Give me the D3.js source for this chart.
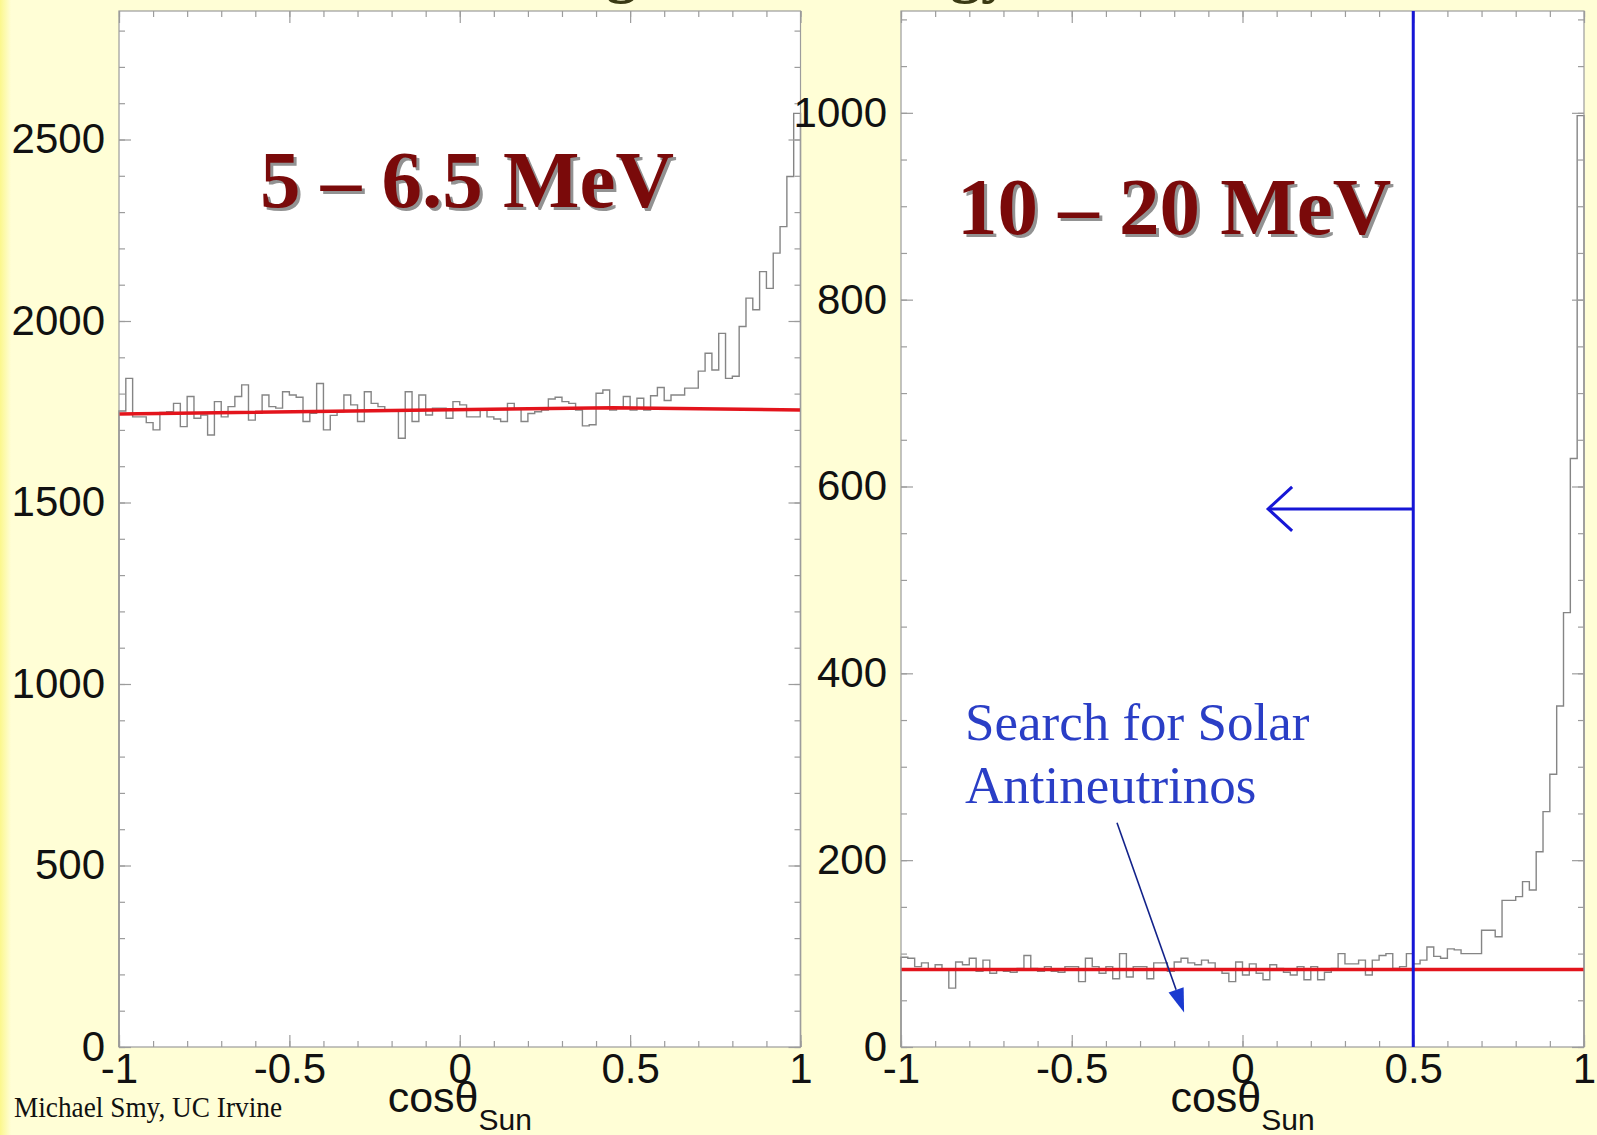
<!DOCTYPE html>
<html>
<head>
<meta charset="utf-8">
<script src="https://cdn.jsdelivr.net/npm/d3@7"></script>
<style>
  html, body { margin: 0; padding: 0; background: #fffed6; }
  svg { display: block; }
</style>
</head>
<body>
<svg id="chart" width="1597" height="1135"></svg>
<script>
// ---- data ---------------------------------------------------------------
// 100 bins in cos(theta_sun) from -1 to 1
const lowEnergyCounts = [
  1752, 1842, 1736, 1736, 1720, 1700, 1748, 1750, 1773, 1709,
  1792, 1732, 1741, 1686, 1778, 1736, 1764, 1792, 1824, 1727,
  1746, 1796, 1764, 1760, 1805, 1796, 1790, 1723, 1746, 1828,
  1700, 1740, 1750, 1796, 1769, 1723, 1805, 1773, 1764, 1755,
  1755, 1677, 1805, 1723, 1796, 1741, 1760, 1760, 1732, 1778,
  1769, 1736, 1736, 1755, 1736, 1730, 1723, 1773, 1757, 1723,
  1745, 1750, 1755, 1785, 1790, 1778, 1773, 1755, 1711, 1714,
  1801, 1810, 1755, 1760, 1792, 1755, 1787, 1755, 1794, 1817,
  1781, 1796, 1796, 1815, 1815, 1862, 1911, 1865, 1966, 1842,
  1848, 1985, 2063, 2031, 2136, 2090, 2187, 2260, 2398, 2572
];
const highEnergyCounts = [
  96, 95, 86, 90, 82, 88, 82, 63, 91, 88,
  95, 81, 93, 79, 82, 81, 80, 84, 98, 84,
  81, 86, 81, 80, 86, 86, 70, 95, 86, 79,
  86, 73, 100, 75, 86, 86, 73, 90, 90, 81,
  91, 95, 90, 88, 93, 90, 82, 79, 70, 91,
  77, 89, 79, 72, 88, 84, 80, 77, 86, 72,
  86, 72, 80, 84, 100, 89, 89, 93, 77, 93,
  98, 100, 84, 86, 100, 89, 93, 107, 97, 95,
  105, 104, 100, 100, 100, 125, 125, 118, 157, 157,
  161, 177, 168, 209, 252, 292, 365, 465, 630, 997
];
// background fits: [cos, counts]
const lowEnergyFit = [[-1, 1744], [0.45, 1761], [1, 1755]];
const highEnergyFit = [[-1, 83], [1, 83]];

const xTickValues = [-1, -0.5, 0, 0.5, 1];
const lowYTickValues = [0, 500, 1000, 1500, 2000, 2500];
const highYTickValues = [0, 200, 400, 600, 800, 1000];

const panelTitles = ["5 \u2013 6.5 MeV", "10 \u2013 20 MeV"];
const angleCut = 0.5;
const annotationLines = ["Search for Solar", "Antineutrinos"];
const axisTitleMain = "cos\u03B8";
const axisTitleSub = "Sun";
const creditText = "Michael Smy, UC Irvine";

// ---- layout -------------------------------------------------------------
const W = 1597, H = 1135;
const plotTop = 11, plotBottom = 1047;
const gray = "#9c9c9c";

const panels = [
  { counts: lowEnergyCounts, fit: lowEnergyFit, yTicks: lowYTickValues, yMax: 2854, yMinor: 100,
    left: 119, right: 800.5, title: panelTitles[0], titlePos: [-0.586, 2314] },
  { counts: highEnergyCounts, fit: highEnergyFit, yTicks: highYTickValues, yMax: 1109, yMinor: 50,
    left: 901, right: 1584, title: panelTitles[1], titlePos: [-0.836, 870] }
];

const svg = d3.select("#chart");

// page background with a stronger yellow strip on the left edge
const defs = svg.append("defs");
const grad = defs.append("linearGradient").attr("id", "edge").attr("x1", 0).attr("x2", 1);
grad.append("stop").attr("offset", 0).attr("stop-color", "#fbf78c");
grad.append("stop").attr("offset", 1).attr("stop-color", "#fffed6");
svg.append("rect").attr("width", W).attr("height", H).attr("fill", "#fffed6");
svg.append("rect").attr("width", 11).attr("height", H).attr("fill", "url(#edge)");

// clipped remains of the heading above the plots
svg.append("g").selectAll("text").data([["g", 606], ["gy", 950]]).join("text")
  .attr("x", d => d[1]).attr("y", -9)
  .attr("font-family", "Liberation Serif, serif").attr("font-weight", "bold")
  .attr("font-size", 62).attr("fill", "#3a3a12").text(d => d[0]);

const tickFmt = d => String(d);

panels.forEach((p, idx) => {
  const x = d3.scaleLinear().domain([-1, 1]).range([p.left, p.right]);
  const y = d3.scaleLinear().domain([0, p.yMax]).range([plotBottom, plotTop]);
  p.x = x; p.y = y;
  const g = svg.append("g");

  g.append("rect").attr("x", p.left).attr("y", plotTop)
    .attr("width", p.right - p.left).attr("height", plotBottom - plotTop).attr("fill", "#ffffff");

  // histogram outline
  const n = p.counts.length, bw = 2 / n;
  const steps = [[-1, 0]];
  p.counts.forEach((c, i) => { const x0 = -1 + i * bw; steps.push([x0, c], [x0 + bw, c]); });
  steps.push([1, 0]);
  const line = d3.line().x(d => x(d[0])).y(d => y(d[1]));
  g.append("path").attr("d", line(steps)).attr("fill", "none")
    .attr("stroke", "#858585").attr("stroke-width", 1.4);

  // background fit
  g.append("path").attr("d", line(p.fit)).attr("fill", "none")
    .attr("stroke", "#e3141c").attr("stroke-width", 3.6);

  // frame
  g.append("rect").attr("x", p.left).attr("y", plotTop)
    .attr("width", p.right - p.left).attr("height", plotBottom - plotTop)
    .attr("fill", "none").attr("stroke", gray).attr("stroke-width", 1.2);

  const xMinor = d3.range(21).map(i => -1 + i * 0.1);
  const yMinor = d3.range(0, p.yMax, p.yMinor);
  const styleAxis = sel => {
    sel.select(".domain").remove();
    sel.selectAll(".tick line").attr("stroke", gray).attr("stroke-width", 1.2);
    sel.selectAll("text").attr("font-family", "Liberation Sans, Arial, sans-serif")
      .attr("font-size", 42).attr("fill", "#111");
  };
  const none = () => "";

  // minor ticks on all four sides, pointing inward
  g.append("g").attr("transform", `translate(0,${plotBottom})`)
    .call(d3.axisBottom(x).tickValues(xMinor).tickSizeInner(-6).tickSizeOuter(0).tickFormat(none)).call(styleAxis);
  g.append("g").attr("transform", `translate(0,${plotTop})`)
    .call(d3.axisTop(x).tickValues(xMinor).tickSizeInner(-6).tickSizeOuter(0).tickFormat(none)).call(styleAxis);
  g.append("g").attr("transform", `translate(${p.left},0)`)
    .call(d3.axisLeft(y).tickValues(yMinor).tickSizeInner(-6).tickSizeOuter(0).tickFormat(none)).call(styleAxis);
  g.append("g").attr("transform", `translate(${p.right},0)`)
    .call(d3.axisRight(y).tickValues(yMinor).tickSizeInner(-6).tickSizeOuter(0).tickFormat(none)).call(styleAxis);

  // major ticks with labels
  g.append("g").attr("transform", `translate(0,${plotBottom})`)
    .call(d3.axisBottom(x).tickValues(xTickValues).tickSizeInner(-12).tickSizeOuter(0).tickPadding(6).tickFormat(tickFmt))
    .call(styleAxis);
  g.append("g").attr("transform", `translate(0,${plotTop})`)
    .call(d3.axisTop(x).tickValues(xTickValues).tickSizeInner(-12).tickSizeOuter(0).tickFormat(none)).call(styleAxis);
  g.append("g").attr("transform", `translate(${p.left},0)`)
    .call(d3.axisLeft(y).tickValues(p.yTicks).tickSizeInner(-12).tickSizeOuter(0).tickPadding(14).tickFormat(tickFmt))
    .call(styleAxis);
  g.append("g").attr("transform", `translate(${p.right},0)`)
    .call(d3.axisRight(y).tickValues(p.yTicks).tickSizeInner(-12).tickSizeOuter(0).tickFormat(none)).call(styleAxis);

  // axis title cos(theta)_Sun
  const t = g.append("text").attr("x", x(0)).attr("y", 1112).attr("text-anchor", "middle")
    .attr("font-family", "Liberation Sans, Arial, sans-serif").attr("fill", "#111");
  t.append("tspan").attr("font-size", 43).text(axisTitleMain);
  t.append("tspan").attr("font-size", 30).attr("dy", 18).text(axisTitleSub);

  // energy window title with drop shadow
  const [tx, ty] = p.titlePos;
  [[3, 3, "#929292"], [0, 0, "#7a0a0a"]].forEach(([dx, dy, c]) => {
    g.append("text").attr("x", x(tx) + dx).attr("y", y(ty) + dy)
      .attr("font-family", "Liberation Serif, Times New Roman, serif").attr("font-weight", "bold")
      .attr("font-size", 81).attr("fill", c).text(p.title);
  });
});

// ---- annotations on the high-energy panel --------------------------------
const hp = panels[1];
const blue = "#1616d6";
svg.append("line").attr("x1", hp.x(angleCut)).attr("x2", hp.x(angleCut))
  .attr("y1", plotTop).attr("y2", plotBottom).attr("stroke", blue).attr("stroke-width", 3);

const arrowY = hp.y(576), arrowTip = hp.x(0.075);
svg.append("line").attr("x1", hp.x(angleCut)).attr("x2", arrowTip)
  .attr("y1", arrowY).attr("y2", arrowY).attr("stroke", blue).attr("stroke-width", 3);
svg.append("path")
  .attr("d", `M${arrowTip + 24},${arrowY - 22}L${arrowTip},${arrowY}L${arrowTip + 24},${arrowY + 22}`)
  .attr("fill", "none").attr("stroke", blue).attr("stroke-width", 3);

svg.append("g").selectAll("text").data(annotationLines).join("text")
  .attr("x", hp.x(-0.8126)).attr("y", (d, i) => hp.y([329, 261][i]))
  .attr("font-family", "Liberation Serif, Times New Roman, serif").attr("font-size", 53)
  .attr("fill", "#2a3ec6").text(d => d);

// pointer from the annotation down to the flat region
const p0 = [hp.x(-0.3675), hp.y(240)], p1 = [hp.x(-0.171), hp.y(37)];
const ang = Math.atan2(p1[1] - p0[1], p1[0] - p0[0]);
const headLen = 24, headHalf = 8;
const base = [p1[0] - headLen * Math.cos(ang), p1[1] - headLen * Math.sin(ang)];
svg.append("line").attr("x1", p0[0]).attr("y1", p0[1]).attr("x2", base[0]).attr("y2", base[1])
  .attr("stroke", "#12228a").attr("stroke-width", 1.6);
svg.append("path").attr("d",
  `M${p1[0]},${p1[1]}` +
  `L${base[0] + headHalf * Math.sin(ang)},${base[1] - headHalf * Math.cos(ang)}` +
  `L${base[0] - headHalf * Math.sin(ang)},${base[1] + headHalf * Math.cos(ang)}Z`)
  .attr("fill", "#1a3ad0");

// credit line
svg.append("text").attr("x", 14).attr("y", 1117)
  .attr("font-family", "Liberation Serif, Times New Roman, serif").attr("font-size", 29)
  .attr("textLength", 268).attr("lengthAdjust", "spacingAndGlyphs")
  .attr("fill", "#111").text(creditText);
</script>
</body>
</html>
